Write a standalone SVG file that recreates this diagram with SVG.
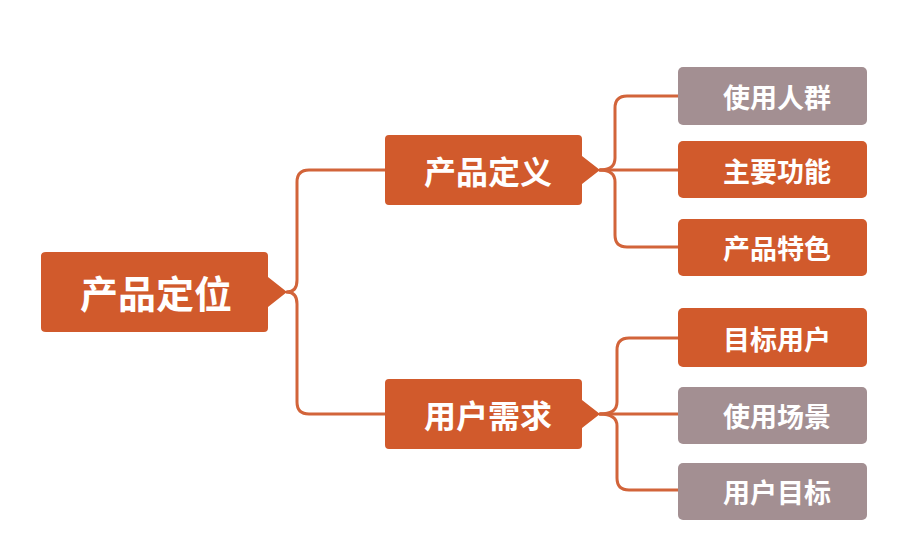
<svg xmlns="http://www.w3.org/2000/svg" width="920" height="550" viewBox="0 0 920 550">
<style>
.o{fill:#D15A2C}
.g{fill:#A38F92}
.t{fill:#fff;font-family:"Noto Sans CJK SC","Noto Sans",sans-serif;font-weight:700;text-anchor:middle;dominant-baseline:central}
.c{fill:none;stroke:#D2643A;stroke-width:3;stroke-linecap:round;stroke-linejoin:round}
</style>
<rect width="920" height="550" fill="#fff"/>
<g id="connectors">
<path class="c" d="M287,292 Q297,292 297,280 L297,182 Q297,170 309,170 L385,170"/>
<path class="c" d="M287,292 Q297,292 297,304 L297,402 Q297,414 309,414 L385,414"/>
<path class="c" d="M600,170 Q615,170 615,158 L615,108 Q615,96 627,96 L678,96"/>
<path class="c" d="M600,170 L678,170"/>
<path class="c" d="M600,170 Q615,170 615,182 L615,235 Q615,247 627,247 L678,247"/>
<path class="c" d="M600,414 Q617,414 617,402 L617,350 Q617,338 629,338 L678,338"/>
<path class="c" d="M600,414 L678,414"/>
<path class="c" d="M600,414 Q617,414 617,426 L617,478 Q617,490 629,490 L678,490"/>
</g>
<g id="root">
<path class="o" d="M46,252 H264 Q268,252 268,256 V277 L287,292 L268,307 V328 Q268,332 264,332 H46 Q41,332 41,328 V256 Q41,252 46,252 Z"/>
<text class="t" x="156" y="291" font-size="38">产品定位</text>
</g>
<g id="n-def">
<path class="o" d="M389,135 H578 Q582,135 582,139 V156 L600,170 L582,184 V201 Q582,205 578,205 H389 Q385,205 385,201 V139 Q385,135 389,135 Z"/>
<text class="t" x="488" y="170" font-size="32">产品定义</text>
</g>
<g id="n-need">
<path class="o" d="M389,379 H578 Q582,379 582,383 V400 L600,414 L582,428 V445 Q582,449 578,449 H389 Q385,449 385,445 V383 Q385,379 389,379 Z"/>
<text class="t" x="488" y="414" font-size="32">用户需求</text>
</g>
<g id="l1"><rect class="g" x="678" y="67" width="189" height="58" rx="5"/><text class="t" x="777" y="96" font-size="27">使用人群</text></g>
<g id="l2"><rect class="o" x="678" y="141" width="189" height="57" rx="5"/><text class="t" x="777" y="170" font-size="27">主要功能</text></g>
<g id="l3"><rect class="o" x="678" y="219" width="189" height="57" rx="5"/><text class="t" x="777" y="247" font-size="27">产品特色</text></g>
<g id="l4"><rect class="o" x="678" y="308" width="189" height="59" rx="5"/><text class="t" x="777" y="338" font-size="27">目标用户</text></g>
<g id="l5"><rect class="g" x="678" y="387" width="189" height="57" rx="5"/><text class="t" x="777" y="415" font-size="27">使用场景</text></g>
<g id="l6"><rect class="g" x="678" y="463" width="189" height="57" rx="5"/><text class="t" x="777" y="491" font-size="27">用户目标</text></g>
</svg>
